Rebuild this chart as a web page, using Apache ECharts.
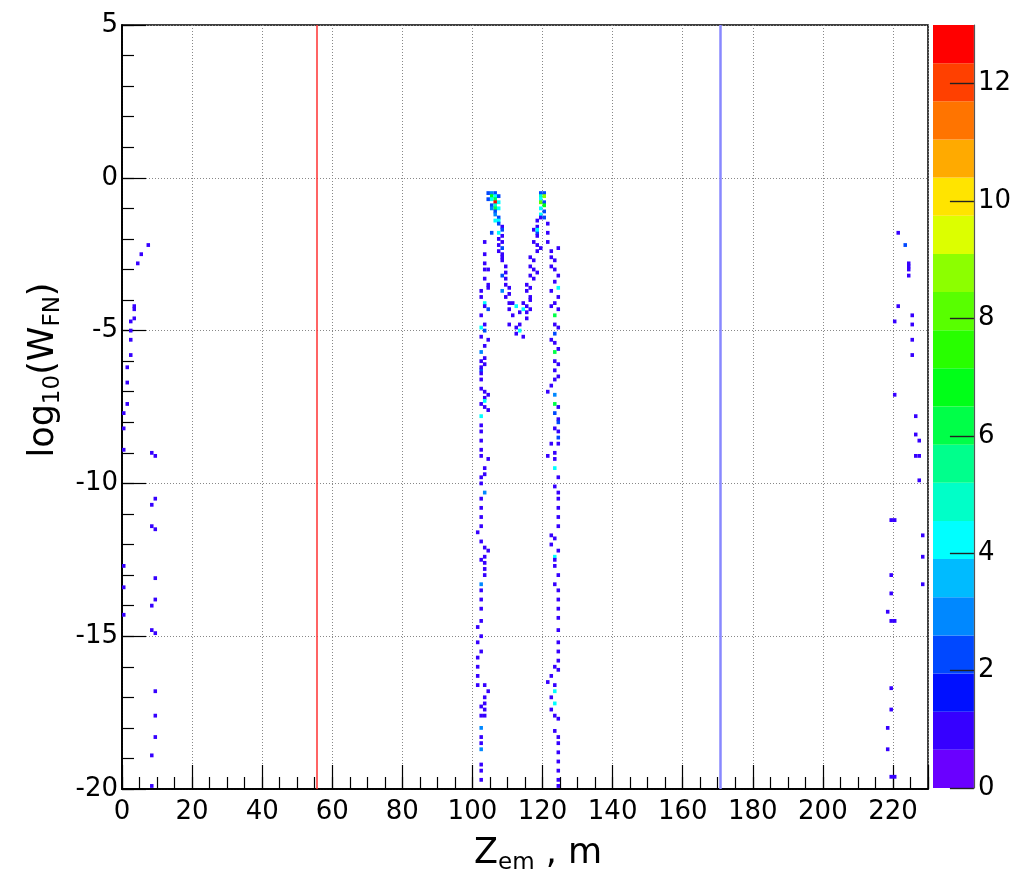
<!DOCTYPE html>
<html><head><meta charset="utf-8">
<script src="https://cdn.jsdelivr.net/npm/echarts@6/dist/echarts.min.js"></script>
<style>html,body{margin:0;padding:0;background:#fff}#c{width:1014px;height:881px}</style>
</head><body><div id="c"></div>
<script>
// ---- axis / tick data ----
const xTickLabels = [0, 20, 40, 60, 80, 100, 120, 140, 160, 180, 200, 220];
const yTickLabels = [-20, -15, -10, -5, 0, 5];
const zTickLabels = [0, 2, 4, 6, 8, 10, 12];
const xRange = [0, 230];
const yRange = [-20, 5];
const zMax = 13;
const binW = 1, binH = 0.125;

// colour palette (20 contour bands, bottom -> top)
const bandColors = ['#6a00ff', '#3600ff', '#0010ff', '#0048ff', '#0088ff', '#00bbff', '#00ffff', '#00ffc8', '#00ff8c', '#00ff48',
                    '#00ff18', '#28ff00', '#58ff00', '#8cff00', '#dcff00', '#ffe400', '#ffaa00', '#ff7400', '#ff4000', '#ff0000'];

// vertical marker lines (x positions)
const markerX = [55.6, 170.6];
const markerColors = ['#ff3030', '#8888ff'];

// ---- cells: [x bin low edge, y (approx centre), entries] ----
const sideLeft = [
  [7,-2.2,1],[5,-2.5,1],[4,-2.8,1],[3,-4.2,1],[3,-4.3,1],[3,-4.6,1],[2,-4.7,1],[2,-5.0,1],[2,-5.3,1],[2,-5.8,1],
  [1,-6.2,1],[1,-6.7,1],[1,-7.4,1],[0,-7.7,1],[0,-8.2,1],[0,-8.9,1],[8,-9.0,1],[9,-9.1,1],[9,-10.5,1],[8,-10.7,1],
  [8,-11.4,1],[9,-11.5,1],[0,-12.7,1],[9,-13.1,1],[0,-13.4,1],[9,-13.8,1],[8,-14.0,1],[0,-14.3,1],[8,-14.8,1],[9,-14.9,1],
  [9,-16.8,1],[9,-17.6,1],[9,-18.3,1],[8,-18.9,1],[8,-19.9,1]
];
const sideRight = [
  [221,-1.8,1],[223,-2.2,2],[224,-2.8,1],[224,-2.9,1],[224,-3.0,1],[224,-3.2,1],[221,-4.2,1],[225,-4.5,1],[220,-4.7,1],[225,-4.8,1],
  [225,-5.3,1],[225,-5.8,1],[220,-7.1,1],[226,-7.8,1],[226,-8.4,1],[227,-8.6,1],[226,-9.1,1],[227,-9.1,1],[227,-9.9,1],
  [219,-11.2,1],[220,-11.2,1],[228,-11.7,1],[228,-12.4,1],[219,-13.0,1],[228,-13.3,1],[219,-13.6,1],[218,-14.2,1],
  [219,-14.5,1],[220,-14.5,1],[219,-16.7,1],[219,-17.4,1],[218,-18.0,1],[218,-18.7,1],[219,-19.6,1],[220,-19.6,1]
];
const leftEdge = [
  [103,-2.1,1],[103,-2.5,1],[103,-2.8,1],[103,-3.0,1],[104,-3.0,1],[103,-3.3,1],[104,-3.5,1],[104,-3.6,1],[102,-3.7,1],[102,-3.9,1],
  [103,-4.1,4],[103,-4.2,1],[104,-4.3,2],[102,-4.5,1],[103,-4.8,1],[102,-4.9,4],[103,-5.0,2],[102,-5.2,1],[104,-5.3,1],[103,-5.5,1],
  [102,-5.7,3],[103,-5.9,1],[103,-6.1,1],[102,-6.3,2],
  [102,-6.0,1],[102,-6.2,1],[102,-6.4,1],[102,-6.6,1],[102,-6.9,1],[103,-7.0,1],[104,-7.1,1],[103,-7.2,1],[103,-7.3,4],[102,-7.4,1],
  [103,-7.5,1],[104,-7.6,1],[102,-7.8,4],[102,-8.1,1],[102,-8.3,1],[102,-8.6,1],[102,-8.9,1],[102,-9.1,1],[104,-9.2,1],[103,-9.5,1],
  [103,-9.7,1],[102,-9.8,1],[102,-10.0,1],[103,-10.3,3],[102,-10.5,1],[102,-10.8,1],[102,-11.1,1],[102,-11.4,1],[101,-11.6,1],
  [102,-11.9,1],[103,-12.1,1],[104,-12.2,1],[103,-12.4,1],
  [102,-12.5,1],[103,-12.6,1],[103,-12.8,1],[103,-13.0,1],[102,-13.3,3],[102,-13.5,1],[102,-13.8,1],[102,-14.1,1],[102,-14.5,1],
  [101,-14.7,1],[102,-15.0,1],[101,-15.2,1],[102,-15.5,1],[101,-15.7,1],[101,-16.0,1],[101,-16.3,1],[101,-16.6,1],[103,-16.6,1],
  [104,-16.8,1],[103,-17.0,1],[103,-17.2,1],[102,-17.3,1],[103,-17.4,1],[102,-17.6,1],[103,-17.6,1],[102,-18.0,3],[102,-18.3,1],
  [102,-18.5,1],[102,-18.7,3],[102,-19.2,1],[102,-19.4,1],[102,-19.7,1]
];
const rightEdge = [
  [121,-2.1,1],[122,-2.4,1],[124,-2.3,1],[122,-2.6,1],[123,-2.7,1],[122,-2.9,1],[123,-3.0,1],[124,-3.2,1],[123,-3.4,1],[124,-3.6,4],
  [122,-3.7,1],[124,-3.9,1],[123,-4.1,1],[122,-4.2,1],[124,-4.3,1],[123,-4.5,6],[123,-4.8,1],[124,-4.9,1],[123,-5.1,2],[122,-5.3,1],
  [123,-5.4,1],[124,-5.6,1],[123,-5.7,6],[123,-6.0,1],[124,-6.1,1],[123,-6.3,1],
  [124,-6.5,1],[123,-6.6,1],[122,-6.8,1],[121,-7.0,1],[123,-7.1,3],[123,-7.4,6],[124,-7.5,1],[123,-7.7,2],[124,-7.9,1],[124,-8.0,2],
  [123,-8.2,1],[124,-8.3,1],[124,-8.5,2],[122,-8.7,1],[124,-8.7,1],[123,-9.0,1],[121,-9.1,1],[123,-9.2,1],[123,-9.5,4],[124,-9.8,1],
  [123,-10.1,1],[124,-10.3,1],[124,-10.5,1],[124,-10.8,1],[124,-11.1,1],[124,-11.4,1],[122,-11.7,1],[123,-11.8,1],[122,-12.0,1],
  [124,-12.2,1],[123,-12.4,4],
  [123,-12.5,1],[123,-12.7,1],[124,-13.0,1],[123,-13.3,1],[124,-13.5,1],[124,-13.8,1],[124,-14.1,1],[124,-14.4,1],[124,-14.8,1],
  [124,-15.2,1],[124,-15.5,1],[124,-15.8,1],[123,-16.0,1],[124,-16.1,1],[122,-16.3,1],[121,-16.5,1],[123,-16.6,1],[123,-16.8,4],
  [122,-17.0,1],[123,-17.2,4],[122,-17.4,1],[123,-17.6,1],[124,-17.7,1],[123,-18.1,1],[124,-18.3,1],[124,-18.5,1],[124,-18.8,1],
  [124,-19.1,1],[124,-19.4,1],[124,-19.7,1],[124,-19.9,1]
];
const leftPeak = [
  [104,-0.5,2],[105,-0.5,3],[106,-0.5,2],[105,-0.6,7],[106,-0.6,4],[107,-0.6,2],[104,-0.7,2],[105,-0.7,4],[106,-0.7,6],
  [106,-0.8,13],[107,-0.8,4],[105,-0.9,2],[106,-0.9,5],[106,-1.0,6],[105,-1.0,3],[107,-1.0,4],[106,-1.1,2],[106,-1.2,3],
  [107,-1.3,2],[106,-1.4,4],[107,-1.4,4],[107,-1.5,2],[108,-1.6,1],[108,-1.7,2],[105,-1.8,2],[107,-1.8,4],[108,-1.9,1],
  [107,-2.0,1],[108,-2.1,1],[107,-2.2,1],[108,-2.3,2],[107,-2.4,1],[108,-2.5,1],
  [108,-2.6,1],[108,-2.7,1],[109,-2.9,1],[109,-3.1,1],[108,-3.2,2],[109,-3.3,1],
  [109,-3.5,1],[110,-3.6,1],[108,-3.7,3],[110,-3.8,1],[109,-3.9,1],
  [110,-4.1,1],[111,-4.1,1],[112,-4.2,4],[110,-4.3,1],[113,-4.4,1],[111,-4.5,1],
  [110,-4.8,1],[112,-4.9,1],[113,-5.0,4],[112,-5.1,1],[114,-5.2,1],[113,-4.8,1]
];
const rightPeak = [
  [114,-4.1,1],[115,-4.2,1],[114,-4.3,4],[115,-4.4,1],[115,-4.6,1],[116,-4.3,1],
  [115,-3.5,1],[116,-3.6,1],[115,-3.7,1],[116,-3.9,1],[116,-4.0,1],
  [116,-2.6,1],[117,-2.7,1],[116,-2.9,1],[117,-3.0,1],[118,-3.1,1],[116,-3.2,1],[117,-3.3,1],
  [118,-1.6,1],[117,-1.7,1],[118,-1.8,2],[118,-1.9,1],[117,-2.1,1],[118,-2.2,1],[119,-2.3,1],[118,-2.4,1],
  [119,-0.5,2],[120,-0.5,2],[119,-0.6,5],[120,-0.6,9],[119,-0.7,4],[119,-0.8,8],[120,-0.8,2],[120,-0.9,7],[119,-1.0,4],
  [120,-1.1,2],[119,-1.2,4],[119,-1.3,1],[120,-1.3,2],[118,-1.4,1],[118,-1.7,4],[121,-1.5,1],[121,-1.8,1]
];

const cells = [].concat(sideLeft, sideRight, leftEdge, rightEdge, leftPeak, rightPeak);
const bandStep = zMax / bandColors.length;
function colorOf(v) { return bandColors[Math.max(0, Math.min(bandColors.length - 1, Math.floor(v / bandStep)))]; }

const FONT = '"DejaVu Sans", Verdana, sans-serif';
const tickStyle = { color: '#000', width: 1.2 };
const richName = {
  n: { fontSize: 35, fontFamily: FONT, color: '#000', lineHeight: 42 },
  s: { fontSize: 23, fontFamily: FONT, color: '#000', lineHeight: 18, verticalAlign: 'bottom' }
};
const noZero = { onZero: false };

const chart = echarts.init(document.getElementById('c'), null, { renderer: 'canvas' });
chart.setOption({
  animation: false,
  backgroundColor: '#fff',
  grid: [
    { left: 122, top: 25, width: 806, height: 764, show: true, borderColor: '#000', borderWidth: 1.5, backgroundColor: 'transparent' },
    { left: 933, top: 25, width: 45, height: 763 }
  ],
  xAxis: [
    { gridIndex: 0, type: 'value', min: xRange[0], max: xRange[1], interval: 20, position: 'bottom',
      axisLine: { show: true, onZero: false, lineStyle: { color: '#000', width: 1.5 } },
      axisTick: { show: true, inside: true, length: 24, lineStyle: tickStyle },
      axisLabel: { customValues: xTickLabels, fontSize: 26, fontFamily: FONT, color: '#000', margin: 10 },
      splitLine: { show: true, lineStyle: { color: '#888', type: [1, 2], width: 1 } },
      name: '{n|Z}{s|em}{n| , m}', nameLocation: 'middle', nameGap: 44,
      nameTextStyle: { rich: richName, padding: [0, 0, 0, 26] } },
    { gridIndex: 0, type: 'value', min: xRange[0], max: xRange[1], interval: 5, position: 'bottom',
      axisLine: { show: true, onZero: false, lineStyle: { color: '#000', width: 1.5 } },
      axisTick: { show: true, inside: true, length: 12, lineStyle: tickStyle },
      axisLabel: { show: false }, splitLine: { show: false } },
    { gridIndex: 1, type: 'value', min: 0, max: 1, show: false, axisLine: noZero }
  ],
  yAxis: [
    { gridIndex: 0, type: 'value', min: yRange[0], max: yRange[1], interval: 5, position: 'left',
      axisLine: { show: true, onZero: false, lineStyle: { color: '#000', width: 1.5 } },
      axisTick: { show: true, inside: true, length: 24, lineStyle: tickStyle },
      axisLabel: { customValues: yTickLabels, fontSize: 26, fontFamily: FONT, color: '#000', margin: 4 },
      splitLine: { show: true, lineStyle: { color: '#888', type: [1, 2], width: 1 } },
      name: '{n|log}{s|10}{n|(W}{s|FN}{n|)}', nameLocation: 'middle', nameGap: 57, nameRotate: 90,
      nameTextStyle: { rich: richName, padding: [0, 0, 0, 74] } },
    { gridIndex: 0, type: 'value', min: yRange[0], max: yRange[1], interval: 1, position: 'left',
      axisLine: { show: true, onZero: false, lineStyle: { color: '#000', width: 1.5 } },
      axisTick: { show: true, inside: true, length: 12, lineStyle: tickStyle },
      axisLabel: { show: false }, splitLine: { show: false } },
    { gridIndex: 1, type: 'value', min: 0, max: zMax, position: 'right', z: 10,
      axisLine: { show: true, onZero: false, lineStyle: { color: '#555', width: 1.2 } },
      axisTick: { show: true, inside: true, length: 24, customValues: zTickLabels, lineStyle: { color: '#222', width: 1.4 } },
      axisLabel: { customValues: zTickLabels, fontSize: 26, fontFamily: FONT, color: '#000', margin: 4 },
      splitLine: { show: false } }
  ],
  series: [
    { type: 'custom', xAxisIndex: 0, yAxisIndex: 0, clip: true, silent: true,
      encode: { x: 0, y: 1 },
      data: cells,
      renderItem: function (params, api) {
        const x = api.value(0), y = api.value(1), v = api.value(2);
        const p0 = api.coord([x, y + binH / 2]);
        const p1 = api.coord([x + binW, y - binH / 2]);
        return { type: 'rect', shape: { x: p0[0], y: p0[1], width: p1[0] - p0[0], height: p1[1] - p0[1] },
                 style: { fill: colorOf(v) } };
      }
    },
    { type: 'line', xAxisIndex: 0, yAxisIndex: 0, data: [], silent: true,
      markLine: { silent: true, symbol: 'none', label: { show: false }, animation: false,
        data: markerX.map((v, i) => ({ xAxis: v, lineStyle: { color: markerColors[i], width: i === 0 ? 1.5 : 2.5, type: 'solid' } })) } },
    { type: 'custom', xAxisIndex: 2, yAxisIndex: 2, silent: true, z: 1,
      data: bandColors.map((c, i) => [i]),
      encode: { x: -1, y: -1 },
      renderItem: function (params, api) {
        const i = api.value(0);
        const p0 = api.coord([0, (i + 1) * bandStep]);
        const p1 = api.coord([1, i * bandStep]);
        return { type: 'rect', shape: { x: p0[0], y: p0[1], width: p1[0] - p0[0], height: p1[1] - p0[1] },
                 style: { fill: bandColors[i] } };
      }
    }
  ]
});
</script></body></html>
